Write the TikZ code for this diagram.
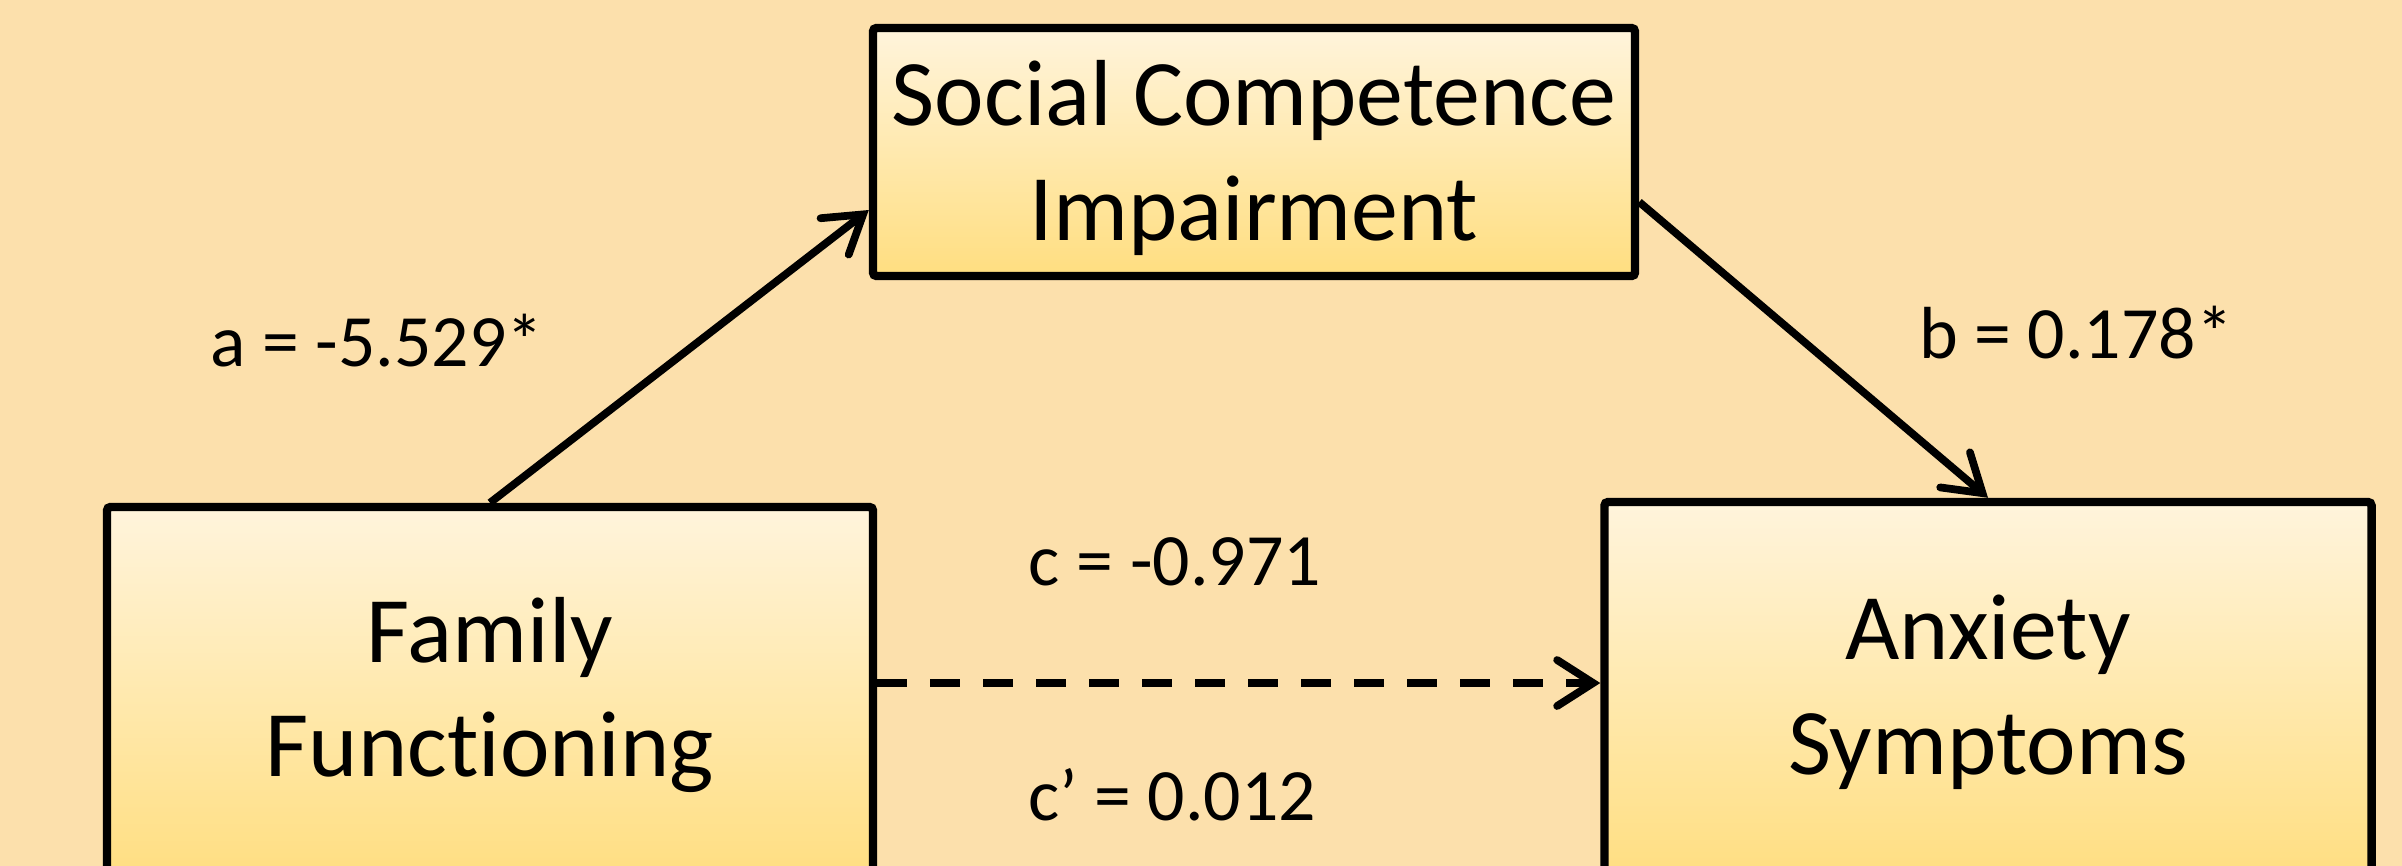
\documentclass[tikz,border=0pt]{standalone}
\usepackage{fontspec}
\setmainfont[Ligatures=NoCommon]{Carlito}
\usetikzlibrary{arrows.meta}

\definecolor{peach}{RGB}{252,224,172}
\definecolor{boxtop}{RGB}{255,244,220}
\definecolor{boxbot}{RGB}{255,222,128}

\tikzset{
	varbox/.style={draw=black, line width=2.4pt, rounded corners=1pt, top color=boxtop, bottom color=boxbot, align=center, inner sep=0pt, font=\fontsize{26.7}{32.7}\selectfont},
	coef/.style={font=\fontsize{21}{25}\selectfont},
	link/.style={line width=2.2pt, -{Straight Barb[length=3.6mm, width=4.6mm, line cap=round]}}
}

\begin{document}
\begin{tikzpicture}
	
	\useasboundingbox (0, 0) rectangle (24.02, -8.65);
	\clip (0, 0) rectangle (24.02, -8.65);
	\fill[peach] (-0.1, 0.1) rectangle (24.12, -8.75);
	
	\node[varbox, minimum width=7.62cm, minimum height=2.48cm, text depth=0.03cm] (sci) at (12.54, -1.52) {Social Competence\\Impairment};
	\node[varbox, minimum width=7.66cm, minimum height=3.76cm] (ff) at (4.90, -6.95) {Family\\Functioning};
	\node[varbox, minimum width=7.67cm, minimum height=3.81cm] (anx) at (19.88, -6.925) {Anxiety\\Symptoms};
	
	\node[coef] (a) at (3.77, -3.41) {a = -5.529*};
	\node[coef] (b) at (20.76, -3.33) {b = 0.178*};
	\node[coef] (c) at (11.75, -5.62) {c = -0.971};
	\node[coef] (cp) at (11.72, -7.95) {c’ = 0.012};
	
	\draw[link] (ff.north) -- ([yshift=-0.58cm]sci.west);
	\draw[link] ([yshift=-0.50cm]sci.east) -- (anx.north);
	\draw[link, dash pattern=on 0.3cm off 0.23cm] ([yshift=0.12cm]ff.east) -- ([yshift=0.095cm]anx.west);
	
\end{tikzpicture}
\end{document}
